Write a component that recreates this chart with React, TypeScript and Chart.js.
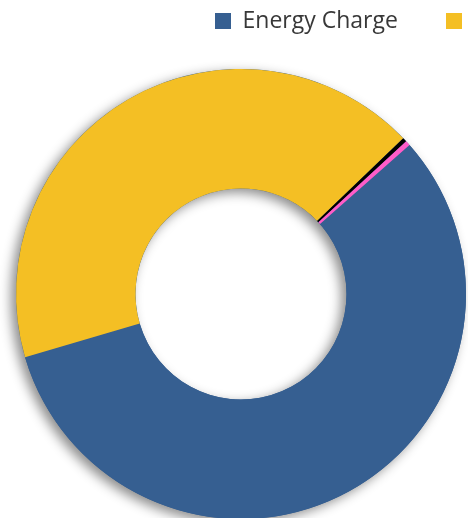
import React, { useEffect, useRef } from "react";
import { Chart, registerables } from "chart.js";

Chart.register(...registerables);

// ---- data ----
const categories = ["Energy Charge", "Demand Charge", "Fuel Adjustment", "Taxes & Fees"];
const shares = [57.0, 42.35, 0.3, 0.35];
const sliceColors = ["#365F91", "#F4BF24", "#000000", "#FF5CC8"];

// ---- look ----
const FONT_FAMILY = "'Open Sans', Lato, sans-serif";
const FONT_SIZE = 23;
const BOX = 16;
const CX = 241;
const CY = 294;
const OUTER_R = 225;
const INNER_R = 105.5;
const START_ANGLE = 48.5;
const BOX1_X = 215;
const BOX2_X = 446;
const BOX_TOP = 13;

const ringShadow = {
  id: "ringShadow",
  beforeDatasetsDraw(chart: any) {
    const arc: any = chart.getDatasetMeta(0).data[0];
    if (!arc) return;
    const { x, y, outerRadius, innerRadius } = arc.getProps(
      ["x", "y", "outerRadius", "innerRadius"],
      true
    );
    const ctx = chart.ctx;
    ctx.save();
    ctx.shadowColor = "rgba(0,0,0,0.45)";
    ctx.shadowBlur = 12;
    ctx.shadowOffsetX = -5;
    ctx.shadowOffsetY = 4;
    ctx.beginPath();
    ctx.arc(x, y, outerRadius, 0, Math.PI * 2);
    ctx.arc(x, y, innerRadius, 0, Math.PI * 2, true);
    ctx.closePath();
    ctx.fillStyle = sliceColors[0];
    ctx.fill();
    ctx.restore();
  },
};

export default function App() {
  const ref = useRef<HTMLCanvasElement>(null);

  useEffect(() => {
    const canvas = ref.current;
    if (!canvas) return;
    const m = document.createElement("canvas").getContext("2d")!;
    m.font = `${FONT_SIZE}px ${FONT_FAMILY}`;
    const t1 = m.measureText(categories[0]).width;
    const t2 = m.measureText(categories[1]).width;
    const w1 = BOX + FONT_SIZE / 2 + t1;
    const w2 = BOX + FONT_SIZE / 2 + t2;
    const P = BOX2_X - BOX1_X - w1;
    const lineWidth = w1 + w2 + 2 * P;
    const Rw = BOX1_X + lineWidth;
    const Lw = 2 * CX - Rw;
    const Lc = Math.floor(Lw);
    const Rc = Math.ceil(Rw);
    const W = Rc - Lc;
    const topW = BOX_TOP - P - (FONT_SIZE - BOX) / 2;
    const Tc = Math.floor(topW);
    const LH = P + Math.max(FONT_SIZE, BOX) + 10;
    const B = 2 * CY - (topW + LH);
    const Bc = Math.ceil(B);
    const H = Bc - Tc;

    canvas.width = W;
    canvas.height = H;
    canvas.style.width = W + "px";
    canvas.style.height = H + "px";
    canvas.style.left = Lc + "px";
    canvas.style.top = Tc + "px";

    const chart = new Chart(canvas, {
      type: "doughnut",
      data: {
        labels: categories,
        datasets: [
          {
            data: shares,
            backgroundColor: sliceColors,
            borderWidth: 0,
            clip: false as any,
          },
        ],
      },
      options: {
        responsive: false,
        animation: false,
        events: [],
        radius: OUTER_R,
        cutout: (INNER_R / OUTER_R) * 100 + "%",
        rotation: START_ANGLE,
        layout: {
          padding: {
            left: Lw - Lc,
            right: Rc - Rw,
            top: topW - Tc,
            bottom: Bc - B,
          },
        },
        plugins: {
          tooltip: { enabled: false },
          legend: {
            position: "top",
            align: "end",
            labels: {
              boxWidth: BOX,
              boxHeight: BOX,
              padding: P,
              color: "#383838",
              font: { family: FONT_FAMILY, size: FONT_SIZE },
              filter: (item: any) => item.index < 2,
            },
          },
        },
      } as any,
      plugins: [ringShadow],
    });
    return () => chart.destroy();
  }, []);

  return (
    <div
      style={{
        position: "fixed",
        left: 0,
        top: 0,
        width: 468,
        height: 518,
        overflow: "hidden",
        background: "#ffffff",
      }}
    >
      <canvas ref={ref} style={{ position: "absolute" }} />
    </div>
  );
}
